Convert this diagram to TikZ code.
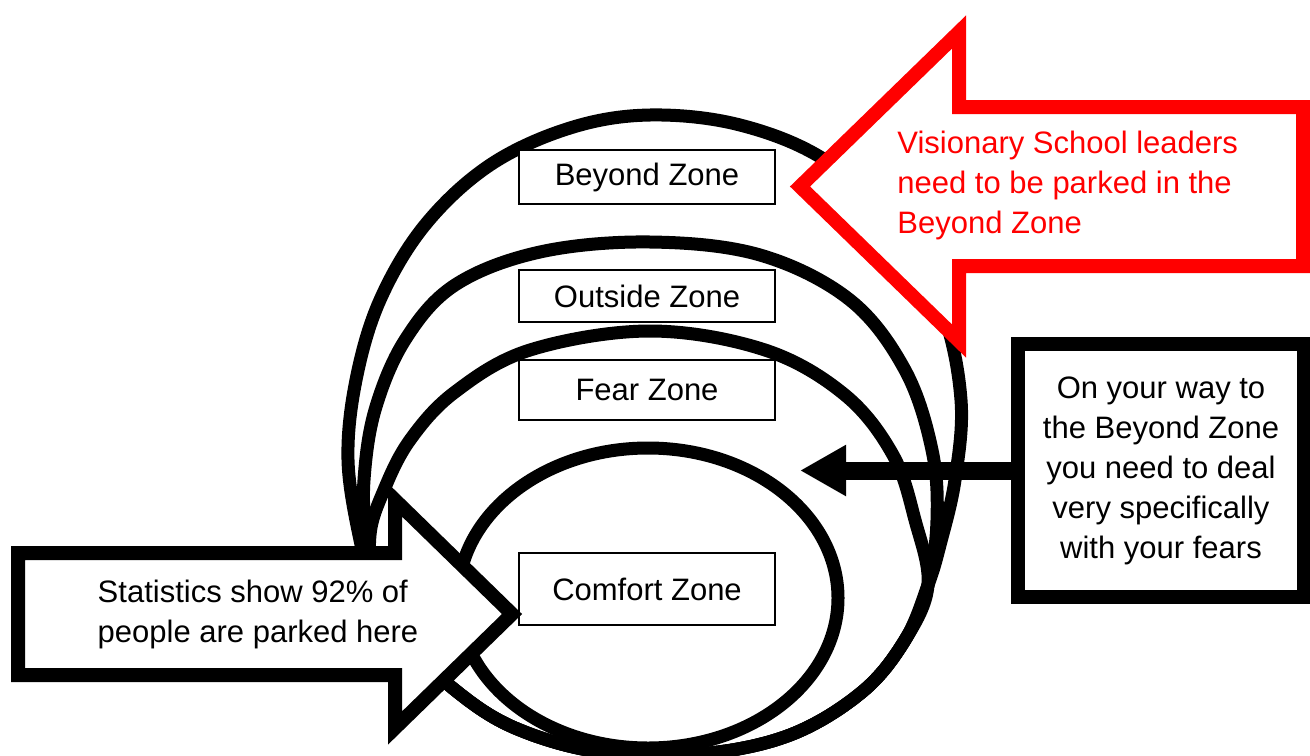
\documentclass[tikz,border=0pt]{standalone}
\usepackage{fontspec}
\setmainfont{Liberation Sans}
\usetikzlibrary{arrows.meta}

\definecolor{leaderred}{RGB}{255,0,0}

\begin{document}
\begin{tikzpicture}[
  x=0.5pt, y=-0.5pt,
  zone/.style={line width=6.5pt, line join=round},
  zonelabel/.style={draw, fill=white, line width=0.8pt, minimum width=128pt,
    inner sep=0pt, font=\fontsize{15.5}{20}\selectfont},
  blockarrow/.style={line width=7pt, line join=miter},
  note/.style={font=\fontsize{15.5}{20}\selectfont, inner sep=0pt}]

    \useasboundingbox (0,0) rectangle (1310,755);

    % the zones, outside in; the three outer ones share their lower edge
    \draw[zone] plot[smooth cycle, tension=0.6] coordinates {
      (360,540) (348,460) (356,380) (380,300) (425,225) (490,165) (570,128)
      (650,115) (740,125) (825,160) (895,225) (942,310) (961,400) (955,480)
      (940,545) (928,585) (905,640) (862,692) (790,735) (700,754) (600,752)
      (515,728) (455,690) (405,640) (375,590)};
    \draw[zone] plot[smooth cycle, tension=0.6] coordinates {
      (366,535) (364,480) (375,410) (405,340) (455,285) (540,252) (650,242)
      (760,255) (850,300) (905,370) (932,450) (937,520)
      (928,585) (905,640) (862,692) (790,735) (700,754) (600,752)
      (515,728) (455,690) (405,640) (375,590)};
    \draw[zone] plot[smooth cycle, tension=0.6] coordinates {
      (370,535) (384,490) (410,440) (455,392) (530,350) (650,331) (765,350)
      (845,395) (893,455) (915,520)
      (928,585) (905,640) (862,692) (790,735) (700,754) (600,752)
      (515,728) (455,690) (405,640) (375,590)};
    \draw[zone] (648,598) ellipse [x radius=95pt, y radius=75pt];

    \node[zonelabel, minimum height=27pt] (beyond) at (647,177) {Beyond Zone};
    \node[zonelabel, minimum height=26pt] (outside) at (647,296) {Outside Zone};
    \node[zonelabel, minimum height=30pt] (fear) at (647,390) {Fear Zone};
    \node[zonelabel, minimum height=36pt] (comfort) at (647,589) {Comfort Zone};

    % arrow into the comfort zone
    \node at (18,553) (s1) {};
    \node at (395,553) (s2) {};
    \node at (395,500) (s3) {};
    \node at (512,614) (s4) {};
    \node at (395,728) (s5) {};
    \node at (395,675) (s6) {};
    \node at (18,675) (s7) {};

    \fill[white] (s1.center) -- (s2.center) -- (s3.center) -- (s4.center) -- (s5.center) -- (s6.center) -- (s7.center) -- cycle;
    \draw[blockarrow] (s1.center) -- (s2.center) -- (s3.center) -- (s4.center) -- (s5.center) -- (s6.center) -- (s7.center) -- cycle;

    \node[note, align=left] (stats) at (258,614) {Statistics show 92\% of\\people are parked here};

    % red arrow pointing at the beyond zone
    \node at (1303,107) (v1) {};
    \node at (959,107) (v2) {};
    \node at (959,32) (v3) {};
    \node at (800,186.5) (v4) {};
    \node at (959,341) (v5) {};
    \node at (959,266) (v6) {};
    \node at (1303,266) (v7) {};

    \fill[white] (v1.center) -- (v2.center) -- (v3.center) -- (v4.center) -- (v5.center) -- (v6.center) -- (v7.center) -- cycle;
    \draw[blockarrow, leaderred] (v1.center) -- (v2.center) -- (v3.center) -- (v4.center) -- (v5.center) -- (v6.center) -- (v7.center) -- cycle;

    \node[note, align=left, anchor=west, text=leaderred] (leaders) at (897,185)
      {Visionary School leaders\\need to be parked in the\\Beyond Zone};

    % box on the right with its pointer
    \node[note, draw, fill=white, line width=7pt, align=center,
      minimum width=143pt, minimum height=126.5pt] (waybox) at (1161,470.5)
      {On your way to\\the Beyond Zone\\you need to deal\\very specifically\\with your fears};

    \coordinate (waytip) at (800,470.5);
    \draw[line width=9pt, -{Triangle[length=23pt, width=24pt]}] (waybox) -- (waytip);

\end{tikzpicture}
\end{document}
